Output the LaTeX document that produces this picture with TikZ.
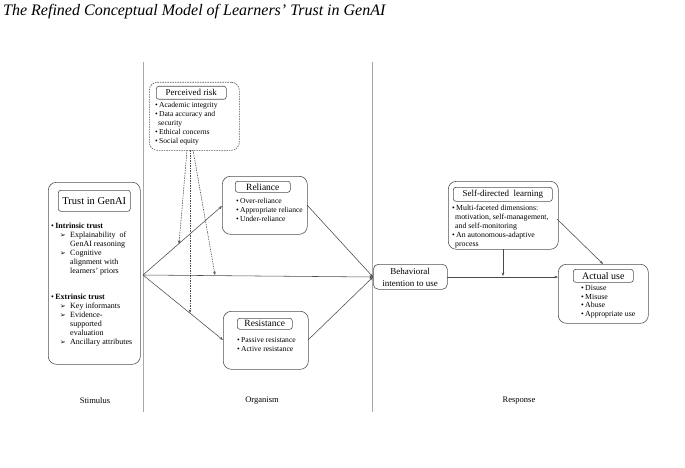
\documentclass[tikz,border=0pt]{standalone}
\usepackage{fontspec}
\setmainfont{Liberation Serif}
\newfontfamily\dejavu{DejaVu Sans}
\usetikzlibrary{arrows.meta}
\definecolor{boxc}{HTML}{505050}
\definecolor{linec}{HTML}{4A4A4A}
\definecolor{divc}{HTML}{A8A8A8}
\newcommand{\fs}[2]{\fontsize{#1}{#2}\selectfont}
\newcommand{\arrw}{{\dejavu\fontsize{6.8}{6.8}\selectfont ➢}}
\begin{document}
\begin{tikzpicture}[x=1pt,y=-1pt,
 outer/.style={draw=boxc,line width=0.6pt,rounded corners=8pt,anchor=north west,inner sep=0pt},
 hdr/.style={draw=boxc,line width=0.6pt,rounded corners=2.5pt,anchor=north west,inner sep=0pt},
 body/.style={anchor=north west,align=left,inner sep=0pt,font=\fs{7.6}{9}},
 conn/.style={draw=linec,line width=0.55pt,-{Stealth[length=3.5pt,width=2.6pt]}},
 dconn/.style={conn,dash pattern=on 1.5pt off 1pt},
 divider/.style={draw=divc,line width=0.8pt},
 lbl/.style={font=\fs{8.5}{10}}
]
\useasboundingbox (0,0) rectangle (685,468);

% title
\node[anchor=west,inner sep=0pt,font=\fs{16}{18}\itshape] (title) at (3,12) {The Refined Conceptual Model of Learners’ Trust in GenAI};

% dividers
\coordinate (d1t) at (143,62); \coordinate (d1b) at (143,412);
\coordinate (d2t) at (372,62); \coordinate (d2b) at (372,412);
\draw[divider] (d1t) -- (d1b);
\draw[divider] (d2t) -- (d2b);

% Trust in GenAI
\node[outer,minimum width=92pt,minimum height=182pt] (trust) at (48,182) {};
\node[hdr,minimum width=72pt,minimum height=21pt,font=\fs{10.5}{12}] (trusth) at (58,190) {Trust in GenAI};
\node[body,font=\fs{8}{9}] (trustb) at (51,223) {%
\textbullet\,\textbf{Intrinsic trust}\\
\hspace*{9pt}\makebox[10pt][l]{\arrw}Explainability\ \ of\\
\hspace*{19pt}GenAI reasoning\\
\hspace*{9pt}\makebox[10pt][l]{\arrw}Cognitive\\
\hspace*{19pt}alignment with\\
\hspace*{19pt}learners’ priors\\[17pt]
\textbullet\,\textbf{Extrinsic trust}\\
\hspace*{9pt}\makebox[10pt][l]{\arrw}Key informants\\
\hspace*{9pt}\makebox[10pt][l]{\arrw}Evidence-\\
\hspace*{19pt}supported\\
\hspace*{19pt}evaluation\\
\hspace*{9pt}\makebox[10pt][l]{\arrw}Ancillary attributes};

% Perceived risk
\node[outer,dashed,dash pattern=on 1.5pt off 1pt,minimum width=90pt,minimum height=68pt] (risk) at (149,82) {};
\node[hdr,minimum width=70pt,minimum height=13pt,font=\fs{9}{10}] (riskh) at (156,86) {Perceived risk};
\node[body] (riskb) at (155,102.5) {%
\textbullet\,Academic integrity\\
\textbullet\,Data accuracy and\\
\hspace*{3pt}security\\
\textbullet\,Ethical concerns\\
\textbullet\,Social equity};

% Reliance
\node[outer,minimum width=85pt,minimum height=58pt] (rel) at (222,176) {};
\node[hdr,minimum width=55pt,minimum height=11pt,font=\fs{9.5}{10}] (relh) at (235,181) {Reliance};
\node[body] (relb) at (236,198) {%
\textbullet\,Over-reliance\\
\textbullet\,Appropriate reliance\\
\textbullet\,Under-reliance};

% Resistance
\node[outer,minimum width=85pt,minimum height=58pt] (res) at (223,311) {};
\node[hdr,minimum width=55pt,minimum height=11pt,font=\fs{9.5}{10}] (resh) at (237,318) {Resistance};
\node[body] (resb) at (237,337) {%
\textbullet\,Passive resistance\\
\textbullet\,Active resistance};

% Behavioral intention
\node[outer,rounded corners=5pt,minimum width=74pt,minimum height=25pt] (bi) at (373,264) {};
\node[inner sep=0pt,align=center,font=\fs{9}{12}] (bit) at (410,277) {Behavioral\\intention to use};

% Self-directed learning
\node[outer,minimum width=110pt,minimum height=68pt] (sdl) at (448,181) {};
\node[hdr,minimum width=99pt,minimum height=14pt,font=\fs{9}{10}] (sdlh) at (453,187) {Self-directed\ \ learning};
\node[body,font=\fs{7.8}{9}] (sdlb) at (452,205) {%
\textbullet\,Multi-faceted dimensions:\\
\hspace*{3pt}motivation, self-management,\\
\hspace*{3pt}and self-monitoring\\
\textbullet\,An autonomous-adaptive\\
\hspace*{3pt}process};

% Actual use
\node[outer,minimum width=90pt,minimum height=59pt] (au) at (558,264) {};
\node[hdr,minimum width=60pt,minimum height=13pt,font=\fs{10}{11}] (auh) at (573,269) {Actual\ use};
\node[body,font=\fs{7.8}{8.8}] (aub) at (581,285) {%
\textbullet\,Disuse\\
\textbullet\,Misuse\\
\textbullet\,Abuse\\
\textbullet\,Appropriate use};

% stage labels
\node[lbl] (stim) at (95,401) {Stimulus};
\node[lbl] (org) at (262,401) {Organism};
\node[lbl] (resp) at (519,401) {Response};

% connectors
\coordinate (src) at (143,275);
\coordinate (relin) at (222,206);
\coordinate (resin) at (223,340);
\coordinate (relout) at (307,205);
\coordinate (resout) at (308,340);
\coordinate (biin) at (373,277);
\coordinate (biout) at (447,277);
\coordinate (auin) at (558,277);
\coordinate (sdlbot) at (503,249);
\coordinate (sdlmeet) at (503,276);
\coordinate (sdlr) at (557,219);
\coordinate (autop) at (603,264);
\draw[conn] (src) -- (relin);
\draw[conn] (src) -- (biin);
\draw[conn] (src) -- (resin);
\draw[conn] (relout) -- (biin);
\draw[conn] (resout) -- (biin);
\draw[conn] (biout) -- (auin);
\draw[conn] (sdlbot) -- (sdlmeet);
\draw[conn] (sdlr) -- (autop);

% dashed moderating arrows
\coordinate (rk1) at (187,150);
\coordinate (rk2) at (190,150);
\coordinate (rk3) at (193,150);
\coordinate (m1) at (179,244);
\coordinate (m2) at (190,313);
\coordinate (m3) at (215,275);
\draw[dconn] (rk1) -- (m1);
\draw[dconn] (rk2) -- (m2);
\draw[dconn] (rk3) -- (m3);
\end{tikzpicture}
\end{document}
